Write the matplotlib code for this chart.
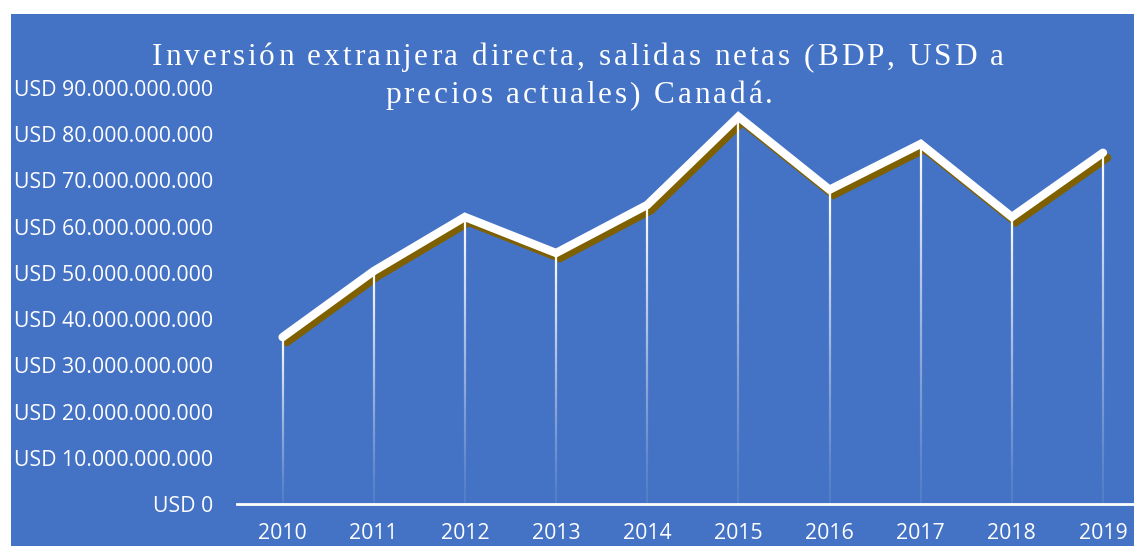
import numpy as np
import matplotlib
matplotlib.use("Agg")
import matplotlib.pyplot as plt
from matplotlib.patches import Rectangle
from matplotlib.collections import LineCollection
from matplotlib.font_manager import FontProperties, findfont, get_font
import matplotlib.transforms as mtransforms

years = ["2010", "2011", "2012", "2013", "2014", "2015", "2016", "2017", "2018", "2019"]
values = [36.1e9, 50.4e9, 62.1e9, 54.3e9, 64.7e9, 83.8e9, 68.0e9, 77.9e9, 62.1e9, 76.0e9]
yticks = [0, 10e9, 20e9, 30e9, 40e9, 50e9, 60e9, 70e9, 80e9, 90e9]
ytick_labels = ["USD 0", "USD 10.000.000.000", "USD 20.000.000.000", "USD 30.000.000.000",
                "USD 40.000.000.000", "USD 50.000.000.000", "USD 60.000.000.000",
                "USD 70.000.000.000", "USD 80.000.000.000", "USD 90.000.000.000"]
title_lines = ["Inversión extranjera directa, salidas netas (BDP, USD a",
               "precios actuales) Canadá."]

BLUE = "#4472C4"
SHADOW = "#7F6000"
W, H = 1134, 546
DPI = 100
fig = plt.figure(figsize=(W / DPI, H / DPI), dpi=DPI, facecolor="white")
fig.patches.append(Rectangle((11 / W, 0), 1 - 11 / W, 1 - 14 / H, transform=fig.transFigure,
                             facecolor=BLUE, edgecolor="none", zorder=-10))

ax = fig.add_axes([237 / W, 42 / H, 1 - 237 / W, (504 - 88) / H])
ax.set_facecolor("none")
x = np.arange(len(years))
ax.set_xlim(-0.5, 9.34)
ax.set_ylim(0, 90e9)

# drop lines with fading gradient
n = 60
for xi, v in zip(x, values):
    ys = np.linspace(0, v, n + 1)
    segs = [[(xi, ys[i]), (xi, ys[i + 1])] for i in range(n)]
    alphas = 0.08 + 0.92 * (np.arange(n) / (n - 1)) ** 1.2
    cols = [(1, 1, 1, a) for a in alphas]
    ax.add_collection(LineCollection(segs, colors=cols, linewidths=1.6, zorder=3))

shadow_tr = mtransforms.offset_copy(ax.transData, fig=fig, x=4, y=-5, units="dots")
ax.plot(x, values, color=SHADOW, lw=6, solid_capstyle="round", solid_joinstyle="miter",
        transform=shadow_tr, zorder=2, clip_on=False)
ax.plot(x, values, color="white", lw=6, solid_capstyle="round", solid_joinstyle="miter",
        zorder=4, clip_on=False)

for s in ["top", "right", "left"]:
    ax.spines[s].set_visible(False)
ax.spines["bottom"].set_color("white")
ax.spines["bottom"].set_linewidth(2)
ax.set_xticks(x)
ax.set_xticklabels(years)
ax.set_yticks(yticks)
ax.set_yticklabels(ytick_labels)
ax.tick_params(axis="both", length=0, colors="white")
ax.tick_params(axis="y", pad=17, labelsize=15.3)
ax.tick_params(axis="x", pad=14, labelsize=15.3)
for t in ax.get_yticklabels() + ax.get_xticklabels():
    t.set_fontfamily("Open Sans")


def spaced_line(text, xc_px, baseline_px, size_pt, spacing_px, family):
    """Draw a line of text centred at xc_px with extra letter spacing."""
    prop = FontProperties(family=family, size=size_pt)
    font = get_font(findfont(prop))
    font.set_size(size_pt, DPI)
    advs = []
    for ch in text:
        g = font.load_char(ord(ch))
        advs.append(g.linearHoriAdvance / 65536.0)
    total = sum(advs) + spacing_px * (len(text) - 1)
    xpos = xc_px - total / 2
    for ch, a in zip(text, advs):
        fig.text(xpos / W, 1 - baseline_px / H, ch, ha="left", va="baseline",
                 color="white", fontproperties=prop)
        xpos += a + spacing_px


spaced_line(title_lines[0], 578, 65, 22.5, 2.9, "Liberation Serif")
spaced_line(title_lines[1], 579, 103, 22.5, 2.9, "Liberation Serif")

fig.savefig("out.png", dpi=DPI, facecolor="white")
